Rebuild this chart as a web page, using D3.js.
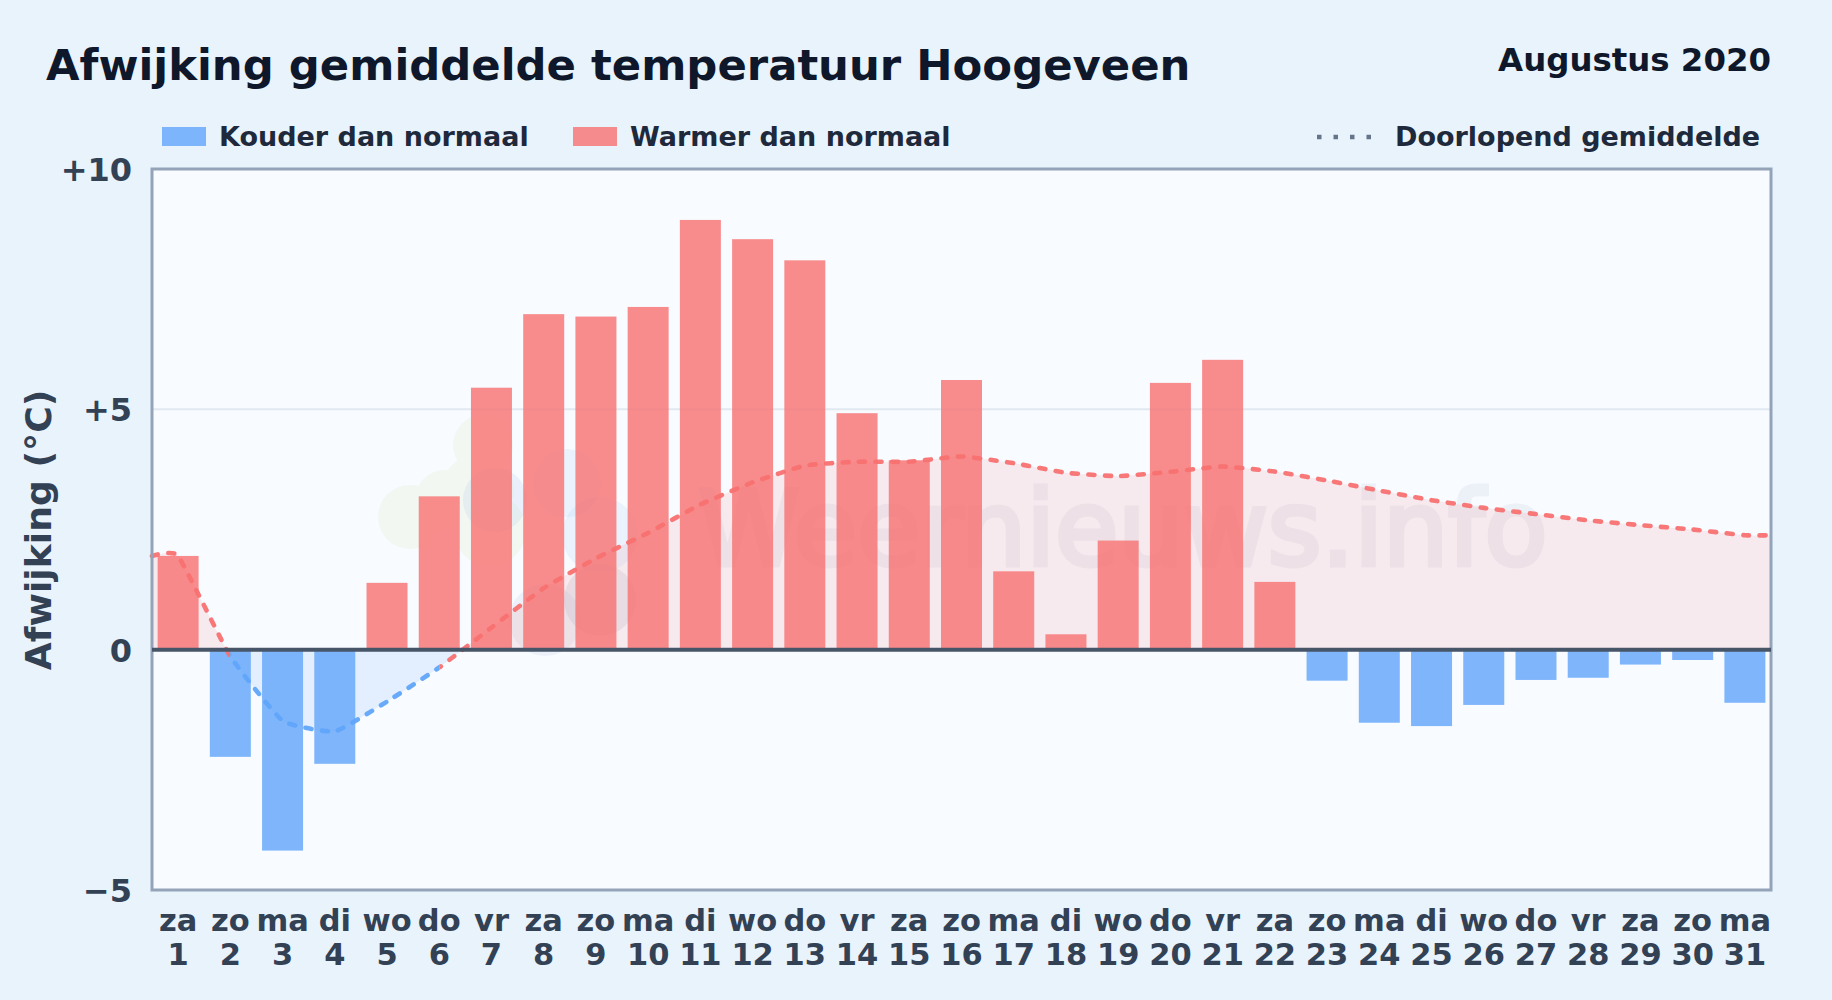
<!DOCTYPE html>
<html><head><meta charset="utf-8">
<style>
html,body{margin:0;padding:0;background:#e8f3fc;}
svg{display:block;}
text{font-family:"DejaVu Sans",sans-serif;font-weight:700;}
</style>
<script src="https://cdn.jsdelivr.net/npm/d3@7"></script>
</head><body>
<svg id="c" width="1832" height="1000"></svg>
<script>
const weekdays=["za","zo","ma","di","wo","do","vr","za","zo","ma","di","wo","do","vr","za","zo","ma","di","wo","do","vr","za","zo","ma","di","wo","do","vr","za","zo","ma"];
const days=d3.range(1,32);
const deviation=[1.95,-2.23,-4.18,-2.375,1.39,3.19,5.45,6.98,6.93,7.13,8.94,8.54,8.10,4.92,3.94,5.61,1.63,0.32,2.27,5.55,6.03,1.41,-0.645,-1.52,-1.59,-1.15,-0.63,-0.585,-0.31,-0.215,-1.105];
const runningMean=[1.95,-0.14,-1.48,-1.70,-1.08,-0.37,0.46,1.28,1.90,2.43,3.02,3.48,3.83,3.91,3.91,4.02,3.88,3.68,3.61,3.70,3.81,3.705,3.52,3.31,3.11,2.95,2.82,2.69,2.59,2.50,2.38];
const yTicks=[-5,0,5,10];
const yLabels=["\u22125","0","+5","+10"];
const legendCold="Kouder dan normaal", legendWarm="Warmer dan normaal", legendMean="Doorlopend gemiddelde";

const L=152,R=1771,T=169,B=890;
const svg=d3.select("#c");
const x=d3.scaleBand().domain(days).range([L,R]).paddingInner(0.215).paddingOuter(0.1075);
const y=d3.scaleLinear().domain([-5,10]).range([B,T]);
const cx=d=>x(d)+x.bandwidth()/2;
const RED="#f87171",BLUE="#60a5fa";

svg.append("rect").attr("width",1832).attr("height",1000).attr("fill","#e8f3fc");
svg.append("rect").attr("x",L).attr("y",T).attr("width",R-L).attr("height",B-T).attr("fill","#f8fbff");

// watermark
const wm=svg.append("g").attr("class","watermark");
const wmGreen=wm.append("g").attr("opacity",0.17);
[[410,517,32],[445,500,30],[483,445,30],[478,490,36],[490,530,36]]
 .forEach(c=>wmGreen.append("circle").attr("cx",c[0]).attr("cy",c[1]).attr("r",c[2]).attr("fill","#d9e8b0"));
[[495,500,32,"#a9c4e8"],[567,483,34,"#a9cff5"],[600,535,38,"#a9cff5"],[600,600,36,"#94a3b8"],[545,620,36,"#b9c8dc"]]
 .forEach(c=>wm.append("circle").attr("cx",c[0]).attr("cy",c[1]).attr("r",c[2]).attr("fill",c[3]).attr("opacity",0.18));
wm.append("text").attr("x",698).attr("y",565).attr("font-size",103).attr("fill","#6b7fa8").attr("stroke","#6b7fa8").attr("stroke-width",5).attr("opacity",0.08).style("font-weight",400).text("Weernieuws.info");

// grid
svg.append("g").selectAll("line").data(yTicks.filter(t=>t===5)).join("line")
 .attr("x1",L).attr("x2",R).attr("y1",d=>y(d)).attr("y2",d=>y(d)).attr("stroke","#e2e8f0").attr("stroke-width",2);

// running mean area + line
const pts=[[L,runningMean[0]],...days.map((d,i)=>[cx(d),runningMean[i]]),[R,runningMean[30]]];
const defs=svg.append("defs");
defs.append("clipPath").attr("id","above").append("rect").attr("x",L).attr("y",T).attr("width",R-L).attr("height",y(0)-T);
defs.append("clipPath").attr("id","below").append("rect").attr("x",L).attr("y",y(0)).attr("width",R-L).attr("height",B-y(0));
const negFrom=cx(days[1]),negTo=cx(days[5]);
const cr=defs.append("clipPath").attr("id","lineRed");
cr.append("rect").attr("x",0).attr("y",0).attr("width",negFrom).attr("height",1000);
cr.append("rect").attr("x",negTo).attr("y",0).attr("width",1832-negTo).attr("height",1000);
defs.append("clipPath").attr("id","lineBlue").append("rect").attr("x",negFrom).attr("y",0).attr("width",negTo-negFrom).attr("height",1000);

const curve=d3.curveCardinal.tension(0.6);
const area=d3.area().x(d=>d[0]).y0(y(0)).y1(d=>y(d[1])).curve(curve);
const line=d3.line().x(d=>d[0]).y(d=>y(d[1])).curve(curve);
svg.append("path").attr("d",area(pts)).attr("fill",RED).attr("fill-opacity",0.12).attr("clip-path","url(#above)");
svg.append("path").attr("d",area(pts)).attr("fill",BLUE).attr("fill-opacity",0.14).attr("clip-path","url(#below)");

// bars
svg.append("g").selectAll("rect").data(days).join("rect")
 .attr("x",d=>x(d)).attr("width",x.bandwidth())
 .attr("y",(d,i)=>Math.min(y(0),y(deviation[i])))
 .attr("height",(d,i)=>Math.abs(y(deviation[i])-y(0)))
 .attr("fill",(d,i)=>deviation[i]>=0?RED:BLUE).attr("fill-opacity",0.8);

[["lineRed",RED],["lineBlue",BLUE]].forEach(([id,col])=>{
 svg.append("g").attr("clip-path",`url(#${id})`).append("path").attr("d",line(pts)).attr("fill","none")
  .attr("stroke",col).attr("stroke-width",4.6).attr("stroke-dasharray","6 10.5").attr("stroke-linecap","round").attr("stroke-opacity",0.95);
});

// frame & zero line
svg.append("rect").attr("x",L).attr("y",T).attr("width",R-L).attr("height",B-T).attr("fill","none").attr("stroke","#94a3b8").attr("stroke-width",3);
svg.append("line").attr("x1",L).attr("x2",R).attr("y1",y(0)).attr("y2",y(0)).attr("stroke","#475569").attr("stroke-width",4);

// axes
const yAxis=d3.axisLeft(y).tickValues(yTicks).tickSize(0).tickPadding(20).tickFormat((d,i)=>yLabels[i]);
const ya=svg.append("g").attr("transform",`translate(${L},0)`).call(yAxis);
ya.select(".domain").remove();
ya.selectAll("text").attr("font-size",32).attr("fill","#334155").attr("dy","0.36em");

const xAxis=d3.axisBottom(x).tickSize(0).tickPadding(0).tickFormat("");
const xa=svg.append("g").attr("transform",`translate(0,${B})`).call(xAxis);
xa.select(".domain").remove();
xa.selectAll("text").each(function(d,i){
 const t=d3.select(this).attr("font-size",30.5).attr("fill","#334155").attr("y",null).attr("dy",null);
 t.append("tspan").attr("x",0).attr("y",41).text(weekdays[i]);
 t.append("tspan").attr("x",0).attr("y",75).text(d);
});

// titles
svg.append("text").attr("x",46).attr("y",80).attr("font-size",43.35).attr("fill","#0f172a").text("Afwijking gemiddelde temperatuur Hoogeveen");
svg.append("text").attr("x",1771).attr("y",71).attr("text-anchor","end").attr("font-size",32.4).attr("fill","#0f172a").text("Augustus 2020");
svg.append("text").attr("transform","translate(51,530) rotate(-90)").attr("text-anchor","middle").attr("font-size",36.2).attr("fill","#334155").text("Afwijking (\u00b0C)");

// legend
const lg=svg.append("g");
lg.append("rect").attr("x",162).attr("y",127).attr("width",44).attr("height",19).attr("fill",BLUE).attr("fill-opacity",0.8);
lg.append("text").attr("x",219).attr("y",146).attr("font-size",27).attr("fill","#1e293b").text(legendCold);
lg.append("rect").attr("x",573).attr("y",127).attr("width",44).attr("height",19).attr("fill",RED).attr("fill-opacity",0.8);
lg.append("text").attr("x",630).attr("y",146).attr("font-size",27).attr("fill","#1e293b").text(legendWarm);
lg.append("line").attr("x1",1317).attr("x2",1374).attr("y1",137).attr("y2",137).attr("stroke","#64748b").attr("stroke-width",4.5).attr("stroke-dasharray","4.5 12");
lg.append("text").attr("x",1395).attr("y",146).attr("font-size",27).attr("fill","#1e293b").text(legendMean);
</script>
</body></html>
